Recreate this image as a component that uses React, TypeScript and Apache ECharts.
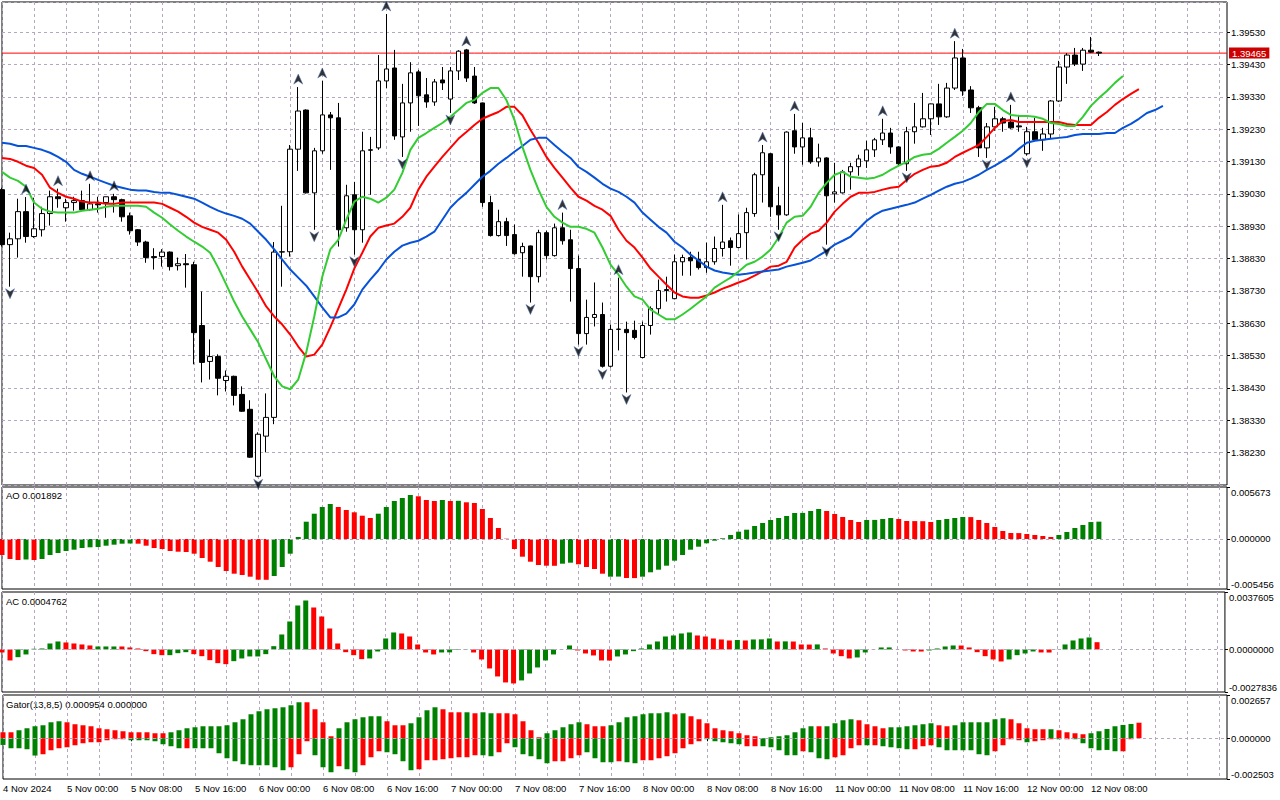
import React, { useEffect, useRef } from "react";
import * as echarts from "echarts";

// ---------- units ----------
const BASE = 1.38; // prices stored in points above 1.38000
const PT = 0.00001;
const MICRO = 0.000001; // oscillators stored in millionths
const SLOTS = 154; // hourly slots shown (candles + shifted alligator + empty right margin)
const BID = 1.39465;

// ---------- time axis ----------
const TIME_LABEL_IDX = [0, 8, 16, 24, 32, 40, 48, 56, 64, 72, 80, 88, 96, 104, 112, 120, 128, 136];
const TIME_LABELS = [
  "4 Nov 2024", "5 Nov 00:00", "5 Nov 08:00", "5 Nov 16:00", "6 Nov 00:00", "6 Nov 08:00",
  "6 Nov 16:00", "7 Nov 00:00", "7 Nov 08:00", "7 Nov 16:00", "8 Nov 00:00", "8 Nov 08:00",
  "8 Nov 16:00", "11 Nov 00:00", "11 Nov 08:00", "11 Nov 16:00", "12 Nov 00:00", "12 Nov 08:00",
];

// ---------- candles (points above 1.38000) ----------
const OPEN = [
  1043, 873, 891, 975, 898, 919, 969, 1021, 987, 1003, 1009, 981, 999, 1003, 1021, 1012, 962, 919, 881, 836,
  836, 850, 808, 814, 811, 623, 512, 527, 453, 466, 410, 364, 157, 281, 339, 850, 851, 1168, 1289, 1033,
  1163, 1274, 1265, 925, 1027, 919, 1166, 1172, 1379, 1419, 1206, 1311, 1407, 1336, 1314, 1382, 1323, 1410, 1475, 1394,
  1311, 1003, 901, 944, 904, 848, 869, 774, 910, 839, 925, 888, 799, 598, 648, 657, 497, 611, 611, 608,
  524, 623, 675, 734, 706, 820, 833, 827, 802, 820, 861, 885, 864, 910, 969, 1089, 1154, 993, 965, 1225,
  1175, 1203, 1129, 1141, 1030, 1033, 1098, 1114, 1132, 1166, 1197, 1218, 1175, 1123, 1222, 1237, 1262, 1308, 1268, 1357,
  1450, 1351, 1296, 1172, 1237, 1262, 1252, 1240, 1154, 1222, 1197, 1215, 1317, 1422, 1459, 1431, 1474, 1468,
];
const HIGH = [
  1049, 910, 1015, 1020, 1018, 990, 1040, 1046, 1015, 1021, 1040, 1061, 1021, 1021, 1030, 1015, 972, 921, 885, 862,
  859, 852, 833, 844, 820, 728, 580, 534, 484, 468, 435, 392, 293, 413, 881, 993, 1181, 1360, 1291, 1172,
  1379, 1283, 1311, 1058, 1067, 1222, 1206, 1459, 1586, 1475, 1370, 1437, 1413, 1388, 1385, 1422, 1422, 1474, 1478, 1422,
  1312, 1024, 981, 956, 935, 879, 870, 919, 916, 938, 972, 919, 839, 703, 756, 694, 626, 771, 635, 638,
  635, 682, 765, 774, 842, 842, 851, 851, 879, 898, 996, 895, 966, 987, 1095, 1181, 1156, 1052, 1223, 1277,
  1249, 1234, 1185, 1143, 1126, 1104, 1126, 1151, 1194, 1203, 1262, 1234, 1177, 1237, 1311, 1342, 1309, 1370, 1373, 1502,
  1478, 1363, 1302, 1249, 1299, 1268, 1305, 1274, 1237, 1265, 1234, 1320, 1441, 1465, 1481, 1481, 1515, 1470,
];
const LOW = [
  867, 743, 833, 879, 894, 898, 932, 987, 944, 978, 978, 978, 972, 956, 972, 944, 904, 869, 817, 796,
  805, 793, 793, 740, 503, 447, 456, 407, 419, 376, 356, 214, 154, 231, 318, 743, 836, 1101, 1031, 919,
  1154, 1104, 867, 913, 842, 879, 1027, 1166, 1357, 1197, 1144, 1222, 1240, 1296, 1302, 1351, 1280, 1382, 1376, 1308,
  990, 898, 898, 869, 842, 774, 694, 756, 827, 836, 873, 697, 564, 564, 620, 493, 493, 546, 416, 580,
  522, 595, 657, 697, 704, 777, 777, 796, 786, 811, 836, 808, 862, 827, 959, 1003, 959, 919, 962, 1154,
  1120, 1123, 1114, 873, 1003, 1031, 1043, 1086, 1110, 1144, 1181, 1154, 1117, 1101, 1185, 1235, 1212, 1243, 1265, 1351,
  1333, 1280, 1144, 1141, 1225, 1222, 1231, 1222, 1148, 1194, 1163, 1200, 1314, 1370, 1425, 1410, 1465, 1456,
];
const CLOSE = [
  873, 891, 975, 898, 922, 969, 1021, 1015, 1003, 1009, 981, 999, 996, 1021, 1012, 959, 916, 881, 833, 833,
  850, 805, 814, 811, 601, 509, 527, 460, 466, 407, 358, 216, 287, 339, 850, 851, 1168, 1286, 1033, 1163,
  1274, 1265, 919, 1024, 919, 1163, 1165, 1379, 1416, 1209, 1311, 1404, 1333, 1314, 1376, 1373, 1410, 1471, 1388, 1311,
  1003, 901, 944, 901, 845, 867, 774, 910, 839, 925, 885, 799, 598, 648, 657, 497, 611, 612, 601, 586,
  623, 675, 731, 731, 820, 833, 823, 802, 820, 861, 881, 864, 907, 972, 1089, 1157, 990, 965, 1221, 1175,
  1203, 1129, 1141, 1024, 1036, 1098, 1114, 1138, 1166, 1197, 1218, 1175, 1123, 1222, 1237, 1262, 1308, 1268, 1357, 1450,
  1348, 1296, 1172, 1237, 1262, 1249, 1234, 1237, 1222, 1197, 1215, 1317, 1422, 1459, 1431, 1474, 1468, 1465,
];

// ---------- Alligator (points above 1.38000, already shifted forward) ----------
const JAW = [
  1188, 1185, 1178, 1178, 1172, 1166, 1157, 1144, 1129, 1104, 1092, 1083, 1073, 1064, 1055, 1049, 1043, 1040, 1040, 1036,
  1033, 1033, 1027, 1021, 1015, 1003, 990, 978, 969, 962, 953, 938, 913, 888, 858, 827, 796, 771, 746, 713,
  679, 648, 648, 660, 688, 734, 765, 793, 827, 851, 870, 879, 885, 898, 913, 950, 987, 1012, 1033, 1058,
  1083, 1101, 1123, 1141, 1160, 1178, 1197, 1203, 1203, 1181, 1160, 1141, 1113, 1098, 1080, 1061, 1046, 1036, 1021, 1003,
  972, 950, 928, 910, 882, 864, 842, 824, 805, 793, 787, 783, 780, 783, 787, 790, 793, 796, 805, 811,
  817, 824, 839, 854, 873, 885, 898, 922, 947, 965, 978, 984, 990, 996, 1003, 1015, 1027, 1040, 1052, 1061,
  1067, 1077, 1089, 1104, 1117, 1132, 1148, 1169, 1188, 1194, 1197, 1200, 1203, 1206, 1212, 1215, 1215, 1215, 1218, 1218,
  1234, 1246, 1262, 1280, 1289, 1302,
];
const TEETH = [
  1141, 1138, 1129, 1117, 1110, 1089, 1049, 1033, 1021, 1015, 1006, 1003, 1003, 999, 999, 1003, 1003, 1003, 1003, 1003,
  999, 987, 975, 959, 941, 928, 919, 910, 888, 851, 805, 765, 725, 682, 651, 626, 595, 558, 527, 533,
  564, 617, 675, 734, 799, 848, 898, 925, 932, 938, 959, 987, 1043, 1083, 1114, 1144, 1172, 1200, 1221, 1243,
  1262, 1273, 1283, 1299, 1299, 1273, 1228, 1188, 1144, 1110, 1080, 1049, 1021, 1009, 993, 981, 962, 919, 885, 864,
  833, 799, 774, 749, 725, 713, 709, 709, 716, 725, 737, 746, 756, 765, 777, 790, 805, 808, 820, 864,
  888, 907, 916, 941, 975, 999, 1021, 1033, 1033, 1036, 1043, 1049, 1052, 1073, 1092, 1104, 1114, 1117, 1126, 1144,
  1157, 1169, 1181, 1206, 1234, 1255, 1258, 1252, 1252, 1252, 1252, 1252, 1252, 1246, 1243, 1243, 1243, 1265, 1283, 1305,
  1323, 1339, 1354,
];
const LIPS = [
  1098, 1080, 1070, 1052, 1003, 984, 975, 972, 972, 972, 978, 981, 984, 990, 993, 993, 993, 993, 990, 972,
  956, 935, 916, 898, 882, 867, 848, 802, 750, 697, 651, 611, 571, 518, 466, 435, 426, 456, 540, 651,
  774, 858, 888, 950, 1006, 1021, 1015, 1003, 1018, 1043, 1095, 1166, 1203, 1218, 1234, 1249, 1268, 1289, 1311, 1320,
  1342, 1357, 1357, 1320, 1259, 1175, 1104, 1043, 990, 959, 941, 928, 928, 922, 910, 864, 811, 780, 743, 713,
  703, 672, 657, 642, 642, 657, 675, 694, 713, 740, 756, 771, 790, 811, 820, 836, 858, 895, 941, 959,
  962, 990, 1033, 1064, 1089, 1098, 1083, 1080, 1077, 1080, 1089, 1104, 1117, 1129, 1144, 1151, 1154, 1169, 1188, 1206,
  1225, 1249, 1283, 1308, 1308, 1289, 1274, 1271, 1271, 1268, 1262, 1249, 1246, 1240, 1240, 1268, 1302, 1326, 1348, 1373,
  1394,
];

// ---------- Fractals (candle indices) ----------
const FRACTAL_UP = [3, 7, 11, 14, 37, 40, 48, 58, 70, 77, 90, 95, 99, 110, 119, 126];
const FRACTAL_DOWN = [1, 32, 39, 44, 50, 56, 66, 72, 75, 78, 97, 103, 113, 123, 128];

// ---------- Awesome Oscillator (millionths) ----------
const AO = [
  -1746, -2182, -2291, -2237, -2291, -2182, -1746, -1527, -1309, -1167, -982, -906, -873, -731, -622, -513, -491, -513, -731, -982,
  -1091, -1309, -1386, -1418, -1604, -2073, -2477, -3055, -3491, -3786, -3928, -4113, -4440, -4451, -4037, -3055, -1604, 218, 1887, 2760,
  3491, 3819, 3491, 3164, 2913, 2542, 2291, 2760, 3491, 4146, 4473, 4800, 4659, 4255, 4146, 4255, 4146, 4168, 4004, 3928,
  3273, 2291, 1200, 33, -1091, -1931, -2477, -2837, -2913, -2924, -2695, -2586, -2760, -3055, -3273, -3786, -4113, -4102, -4255, -4266,
  -4113, -3633, -3349, -2913, -2367, -1746, -1167, -840, -469, -185, 76, 436, 796, 1015, 1418, 1746, 2073, 2291, 2509, 2837,
  2848, 3055, 3273, 3055, 2728, 2400, 2073, 1855, 2073, 2084, 2182, 2291, 2182, 1964, 1953, 1942, 1855, 2073, 2182, 2291,
  2400, 2389, 2073, 1746, 1309, 873, 655, 644, 546, 436, 327, 218, 436, 764, 1200, 1527, 1850, 1892,
];
const AO_GREEN_RUNS = [[3, 3], [5, 16], [34, 41], [47, 51], [55, 55], [57, 57], [70, 71], [76, 77], [80, 102], [108, 111], [117, 120], [132, 137]];

// ---------- Accelerator Oscillator (millionths) ----------
const AC = [
  -196, -719, -504, -327, 46, 65, 392, 523, 458, 392, 327, 262, 196, 196, 196, 196, 131, 65, -111, -307,
  -373, -373, -242, -177, -307, -438, -700, -896, -961, -765, -589, -458, -458, -307, 216, 981, 1831, 2878, 3205, 2747,
  2158, 1373, 392, -177, -373, -634, -589, -131, 719, 1112, 1046, 850, 327, -196, -327, -196, -190, -33, 20, -196,
  -654, -1243, -1766, -2158, -2224, -2027, -1570, -1177, -719, -327, 10, 262, -65, -262, -392, -719, -726, -458, -327, -111,
  65, 327, 523, 850, 916, 1046, 1112, 916, 850, 719, 654, 589, 621, 589, 654, 661, 719, 523, 530, 520,
  327, 320, 330, 65, -262, -438, -589, -523, -196, -10, 131, 135, 5, -65, -131, -135, -65, 65, 196, 262,
  258, 131, -177, -438, -654, -785, -654, -373, -262, -131, -196, -200, 10, 327, 589, 719, 785, 476,
];
const AC_GREEN_RUNS = [[2, 7], [12, 14], [21, 23], [29, 38], [46, 49], [55, 58], [65, 71], [77, 86], [92, 92], [94, 96], [98, 98], [102, 102], [107, 108], [110, 111], [116, 119], [126, 129], [132, 136]];

// ---------- Gator Oscillator (millionths) ----------
const GATOR_UP = [
  368, 368, 491, 614, 737, 798, 982, 1044, 982, 860, 798, 737, 614, 553, 491, 430, 368, 368, 368, 307,
  307, 368, 491, 614, 675, 737, 737, 737, 798, 982, 1167, 1474, 1658, 1781, 1842, 1903, 2026, 2210, 2210, 1781,
  982, 123, 614, 982, 1167, 1289, 1351, 1351, 1044, 798, 798, 921, 1289, 1719, 1903, 1781, 1596, 1596, 1596, 1535,
  1596, 1535, 1535, 1535, 1474, 1044, 491, 61, 307, 491, 675, 860, 982, 860, 737, 737, 798, 982, 1289, 1351,
  1474, 1535, 1535, 1596, 1474, 1535, 1351, 1167, 921, 614, 491, 430, 307, 184, 123, 0, 61, 123, 184, 368,
  614, 737, 737, 737, 921, 1105, 1167, 1105, 860, 737, 614, 675, 675, 737, 798, 860, 921, 798, 737, 798,
  982, 982, 982, 982, 1167, 1228, 1167, 921, 614, 553, 553, 553, 491, 368, 307, 246, 307, 430, 571, 737,
  817, 878, 954,
];
const GATOR_DOWN = [
  -411, -614, -614, -675, -1062, -982, -737, -614, -553, -430, -307, -246, -246, -123, -61, -61, -123, -123, -123, -184,
  -368, -491, -614, -614, -614, -614, -614, -921, -1228, -1412, -1596, -1658, -1658, -1658, -1781, -1965, -1781, -982, -184, -1044,
  -1781, -2088, -1719, -1903, -2088, -1658, -1167, -798, -860, -982, -1412, -1965, -1903, -1351, -1351, -1289, -1228, -1167, -1167, -1044,
  -1044, -1105, -860, -307, -553, -982, -1105, -1289, -1535, -1412, -1412, -1228, -1044, -860, -1228, -1474, -1474, -1412, -1474, -1535,
  -1351, -1351, -1228, -1105, -921, -614, -368, -184, -61, -184, -246, -307, -368, -491, -491, -491, -553, -737, -1044, -1044,
  -798, -860, -1228, -1289, -1167, -1044, -614, -430, -430, -430, -491, -553, -614, -675, -675, -491, -430, -553, -737, -737,
  -737, -737, -982, -1044, -798, -430, -61, -123, -246, -184, -123, -61, -61, -61, -61, -307, -614, -737, -718, -798,
  -798, -61, 0,
];
const GATOR_UP_GREEN_RUNS = [[2, 7], [21, 37], [42, 47], [51, 54], [58, 58], [60, 61], [68, 72], [76, 83], [85, 85], [96, 101], [103, 106], [111, 116], [119, 125], [131, 131], [136, 141]];
const GATOR_DOWN_GREEN_RUNS = [[0, 4], [16, 22], [24, 35], [39, 41], [43, 44], [48, 51], [60, 61], [64, 68], [73, 76], [78, 79], [88, 92], [95, 99], [101, 103], [108, 108], [110, 113], [117, 123], [128, 128], [132, 132], [134, 139]];

// ---------- axis ranges / tick labels ----------
const PRICE_MIN = 1.3813;
const PRICE_MAX = 1.39623;
const PRICE_STEP = 0.001;
const AO_TICKS = [-0.005456, 0, 0.005673];
const AC_TICKS = [-0.0027836, 0, 0.0037605];
const GATOR_TICKS = [-0.002503, 0, 0.002657];

// ---------- styles ----------
const FONT = '"Liberation Sans", Arial, sans-serif';
const GRID_C = "#b3a8bf";
const BAR_GREEN = "#008000";
const BAR_RED = "#ff0000";
const JAW_C = "#0652d8";
const TEETH_C = "#ff0000";
const LIPS_C = "#33cc33";
const BID_C = "#ff0000";

function greenFlags(n: number, runs: number[][]): boolean[] {
  const f = new Array(n).fill(false);
  runs.forEach(([a, b]) => {
    for (let i = a; i <= b; i++) f[i] = true;
  });
  return f;
}

const px = (v: number) => +(BASE + v * PT).toFixed(5);

function buildOption() {
  const cats = Array.from({ length: SLOTS }, (_, i) => String(i));
  const labelMap = new Map<number, string>();
  TIME_LABEL_IDX.forEach((idx, k) => labelMap.set(idx, TIME_LABELS[k]));

  const grids = [
    { left: 2, top: 2, width: 1225, height: 483 },
    { left: 2, top: 487, width: 1225, height: 102 },
    { left: 2, top: 592, width: 1225, height: 100 },
    { left: 2, top: 695, width: 1225, height: 84 },
  ].map((g) => ({ ...g, show: true, borderColor: "#000", borderWidth: 1, backgroundColor: "#fff" }));

  const xAxis = grids.map((_, g) => ({
    type: "category",
    gridIndex: g,
    data: cats,
    boundaryGap: false,
    axisLine: { show: false },
    axisTick:
      g === 3
        ? { show: true, length: 3, interval: (i: number) => labelMap.has(i), lineStyle: { color: "#000" } }
        : { show: false },
    axisLabel:
      g === 3
        ? {
            show: true,
            interval: (i: number) => labelMap.has(i),
            formatter: (_v: string, i: number) => labelMap.get(i) ?? "",
            align: "left",
            margin: 4,
            color: "#000",
            fontSize: 9.5,
            fontFamily: FONT,
          }
        : { show: false },
    splitLine: {
      show: true,
      interval: (i: number) => i % 4 === 0,
      lineStyle: { color: GRID_C, type: [3, 3], width: 1 },
    },
  }));

  const subAxis = (g: number, ticks: number[], digits: number) => ({
    type: "value",
    gridIndex: g,
    position: "right",
    min: ticks[0],
    max: ticks[2],
    axisLine: { show: false },
    axisTick: { show: true, length: 3, customValues: ticks, lineStyle: { color: "#000" } },
    axisLabel: {
      customValues: ticks,
      formatter: (v: number) => v.toFixed(digits),
      color: "#000",
      fontSize: 9.5,
      fontFamily: FONT,
      margin: 4,
      verticalAlignMaxLabel: "top",
      verticalAlignMinLabel: "bottom",
    },
    splitLine: { show: false },
  });

  const yAxis = [
    {
      type: "value",
      gridIndex: 0,
      position: "right",
      min: PRICE_MIN,
      max: PRICE_MAX,
      interval: PRICE_STEP,
      axisLine: { show: false },
      axisTick: { show: true, length: 3, lineStyle: { color: "#000" } },
      axisLabel: {
        showMinLabel: false,
        showMaxLabel: false,
        formatter: (v: number) => v.toFixed(5),
        color: "#000",
        fontSize: 9.5,
        fontFamily: FONT,
        margin: 4,
      },
      splitLine: { show: true, lineStyle: { color: GRID_C, type: [3, 3], width: 1 } },
    },
    subAxis(1, AO_TICKS, 6),
    subAxis(2, AC_TICKS, 7),
    subAxis(3, GATOR_TICKS, 6),
  ];

  const zeroLine = {
    silent: true,
    symbol: ["none", "none"],
    label: { show: false },
    lineStyle: { color: GRID_C, type: [3, 3], width: 1 },
    data: [{ yAxis: 0 }],
  };

  const colored = (vals: number[], runs: number[][]) => {
    const f = greenFlags(vals.length, runs);
    return vals.map((v, i) => ({ value: v * MICRO, itemStyle: { color: f[i] ? BAR_GREEN : BAR_RED } }));
  };

  const lineSeries = (name: string, vals: number[], color: string) => ({
    name,
    type: "line",
    xAxisIndex: 0,
    yAxisIndex: 0,
    data: vals.map(px),
    showSymbol: false,
    symbol: "none",
    color,
    lineStyle: { color, width: 2 },
    z: 4,
    silent: true,
  });

  const candleData = OPEN.map((o, i) => [px(o), px(CLOSE[i]), px(LOW[i]), px(HIGH[i])]);

  return {
    animation: false,
    backgroundColor: "#fff",
    grid: grids,
    xAxis,
    yAxis,
    graphic: [
      { type: "text", left: 6, top: 490, style: { text: "AO 0.001892", fill: "#000", font: `9.5px ${FONT}` } },
      { type: "text", left: 6, top: 596, style: { text: "AC 0.0004762", fill: "#000", font: `9.5px ${FONT}` } },
      { type: "text", left: 6, top: 699, style: { text: "Gator(13,8,5) 0.000954 0.000000", fill: "#000", font: `9.5px ${FONT}` } },
    ],
    series: [
      {
        // current bid price line across the whole price panel, with its price tag on the axis
        name: "Bid",
        type: "line",
        xAxisIndex: 0,
        yAxisIndex: 0,
        data: cats.map(() => BID),
        showSymbol: false,
        symbol: "none",
        color: BID_C,
        lineStyle: { color: BID_C, width: 1, type: "solid" },
        z: 2,
        silent: true,
        endLabel: {
          show: true,
          formatter: BID.toFixed(5),
          distance: 2,
          color: "#fff",
          backgroundColor: "#cc0000",
          padding: [1, 3, 0, 3],
          fontSize: 9.5,
          fontFamily: FONT,
        },
      },
      {
        name: "Price",
        type: "candlestick",
        xAxisIndex: 0,
        yAxisIndex: 0,
        data: candleData,
        barWidth: 5,
        clip: true,
        z: 3,
        itemStyle: { color: "#ffffff", color0: "#000000", borderColor: "#000000", borderColor0: "#000000", borderWidth: 1 },
      },
      lineSeries("Teeth", TEETH, TEETH_C),
      lineSeries("Jaw", JAW, JAW_C),
      lineSeries("Lips", LIPS, LIPS_C),
      {
        name: "Fractal up",
        type: "scatter",
        xAxisIndex: 0,
        yAxisIndex: 0,
        data: FRACTAL_UP.map((i) => [String(i), px(HIGH[i])]),
        symbol: "path://M5 0 L10 10 L5 7 L0 10 Z",
        symbolSize: [9, 10],
        symbolOffset: [0, -8],
        itemStyle: { color: "#000", borderColor: "#4a6fb0", borderWidth: 0.6 },
        z: 5,
        silent: true,
      },
      {
        name: "Fractal down",
        type: "scatter",
        xAxisIndex: 0,
        yAxisIndex: 0,
        data: FRACTAL_DOWN.map((i) => [String(i), px(LOW[i])]),
        symbol: "path://M0 0 L5 3 L10 0 L5 10 Z",
        symbolSize: [9, 10],
        symbolOffset: [0, 7],
        itemStyle: { color: "#000", borderColor: "#4a6fb0", borderWidth: 0.6 },
        z: 5,
        silent: true,
      },
      {
        name: "AO",
        type: "bar",
        xAxisIndex: 1,
        yAxisIndex: 1,
        data: colored(AO, AO_GREEN_RUNS),
        barWidth: 5,
        markLine: zeroLine,
        silent: true,
      },
      {
        name: "AC",
        type: "bar",
        xAxisIndex: 2,
        yAxisIndex: 2,
        data: colored(AC, AC_GREEN_RUNS),
        barWidth: 5,
        markLine: zeroLine,
        silent: true,
      },
      {
        name: "Gator up",
        type: "bar",
        xAxisIndex: 3,
        yAxisIndex: 3,
        data: colored(GATOR_UP, GATOR_UP_GREEN_RUNS),
        barWidth: 5,
        barGap: "-100%",
        markLine: zeroLine,
        silent: true,
      },
      {
        name: "Gator down",
        type: "bar",
        xAxisIndex: 3,
        yAxisIndex: 3,
        data: colored(GATOR_DOWN, GATOR_DOWN_GREEN_RUNS),
        barWidth: 5,
        barGap: "-100%",
        silent: true,
      },
    ],
  };
}

export default function App() {
  const ref = useRef<HTMLDivElement>(null);
  useEffect(() => {
    if (!ref.current) return;
    const chart = echarts.init(ref.current, null, { renderer: "svg" });
    chart.setOption(buildOption() as any);
    return () => chart.dispose();
  }, []);
  return (
    <div
      ref={ref}
      style={{ position: "fixed", left: 0, top: 0, width: 1280, height: 800, background: "#fff" }}
    />
  );
}
